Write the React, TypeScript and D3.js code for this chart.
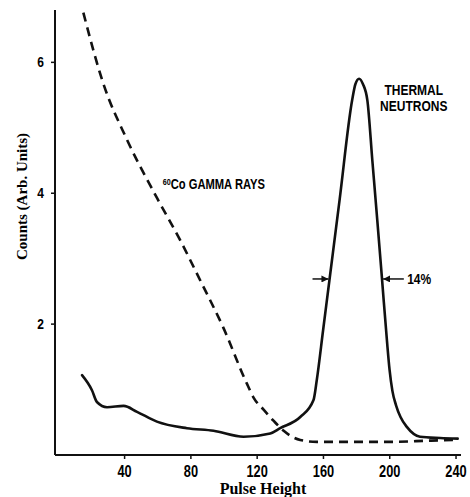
import { useEffect, useRef } from "react";
import * as d3 from "d3";

// neutron peak (solid)
const thermalPulse = [14.3, 20.3, 23.3, 29.4, 39.4, 47.5, 59.5, 77.6, 93.7, 111.8, 127.9, 133.9, 146, 154, 156, 159.8, 163.6, 169.7, 177.3, 179.3, 181.5, 183.8, 186.5, 189.5, 192.5, 195.4, 198.3, 199.9, 201.6, 203.8, 206.5, 210.3, 218.3, 230.4, 241];
const thermalCounts = [1.22, 0.99, 0.81, 0.73, 0.75, 0.66, 0.51, 0.41, 0.37, 0.28, 0.33, 0.41, 0.58, 0.84, 1.15, 1.91, 2.67, 3.89, 5.42, 5.67, 5.75, 5.67, 5.42, 4.5, 3.58, 2.67, 1.75, 1.3, 0.98, 0.76, 0.58, 0.43, 0.28, 0.26, 0.25];

// 60Co gamma background (dashed)
const gammaPulse = [15.1, 27.1, 41.6, 59.7, 73.6, 85.6, 99.5, 113.8, 118, 124, 130, 136, 141, 146, 156, 200, 225, 241];
const gammaCounts = [6.76, 5.68, 4.81, 3.92, 3.28, 2.67, 1.95, 1.09, 0.87, 0.69, 0.52, 0.37, 0.28, 0.23, 0.2, 0.2, 0.22, 0.23];

const xTicks = [40, 80, 120, 160, 200, 240];
const yTicks = [2, 4, 6];

// FWHM marker
const fwhmLevel = 2.69;
const fwhmLeft = [153.4, 163];
const fwhmRight = [208.5, 196];

const W = 470;
const H = 497;
const sans = "'Liberation Sans', Arial, sans-serif";
const serif = "'Liberation Serif', 'Times New Roman', serif";

export default function App() {
  const ref = useRef<SVGSVGElement>(null);

  useEffect(() => {
    document.body.style.margin = "0";
    const svg = d3.select(ref.current);
    svg.selectAll("*").remove();

    const x = d3.scaleLinear().domain([-2, 243]).range([55, 461]);
    const y = d3.scaleLinear().domain([0, 6.8]).range([455, 10]);

    // condensed bold sans, faked with a horizontal squeeze
    const narrowText = (px: number, py: number, size: number, anchor: string, txt: string) =>
      svg.append("text")
        .attr("transform", `translate(${px},${py}) scale(0.8,1)`)
        .attr("text-anchor", anchor)
        .style("font-family", sans).style("font-weight", "bold").style("font-size", size + "px")
        .text(txt);

    const defs = svg.append("defs");
    defs.append("marker")
      .attr("id", "head")
      .attr("viewBox", "0 0 10 10")
      .attr("refX", 10).attr("refY", 5)
      .attr("markerWidth", 7).attr("markerHeight", 7)
      .attr("markerUnits", "userSpaceOnUse")
      .attr("orient", "auto")
      .append("path").attr("d", "M0,0L10,5L0,10Z").attr("fill", "#111");

    // axes lines
    svg.append("line")
      .attr("x1", x(-2)).attr("x2", x(-2))
      .attr("y1", y(6.8)).attr("y2", y(0))
      .attr("stroke", "#111").attr("stroke-width", 2);
    svg.append("line")
      .attr("x1", x(-2)).attr("x2", x(243))
      .attr("y1", y(0)).attr("y2", y(0))
      .attr("stroke", "#111").attr("stroke-width", 2);

    // y ticks
    yTicks.forEach(d => {
      svg.append("line")
        .attr("x1", x(-2) - 4).attr("x2", x(-2))
        .attr("y1", y(d)).attr("y2", y(d))
        .attr("stroke", "#111").attr("stroke-width", 1.5);
      narrowText(x(-2) - 11, y(d) + 5, 15, "end", String(d));
    });

    // x ticks
    xTicks.forEach(d => {
      svg.append("line")
        .attr("x1", x(d)).attr("x2", x(d))
        .attr("y1", y(0)).attr("y2", y(0) + 4)
        .attr("stroke", "#111").attr("stroke-width", 1.5);
      narrowText(x(d), y(0) + 22, 16, "middle", String(d));
    });

    // axis titles
    svg.append("text")
      .attr("transform", `translate(27, ${(y(6.8) + y(0)) / 2 - 36}) rotate(-90)`)
      .attr("text-anchor", "middle")
      .style("font-family", serif).style("font-weight", "bold").style("font-size", "15px")
      .text("Counts (Arb. Units)");
    svg.append("text")
      .attr("x", 263).attr("y", 494)
      .attr("text-anchor", "middle")
      .style("font-family", serif).style("font-weight", "bold").style("font-size", "16px")
      .text("Pulse Height");

    const gamma = gammaPulse.map((p, i) => [x(p), y(gammaCounts[i])] as [number, number]);
    const thermal = thermalPulse.map((p, i) => [x(p), y(thermalCounts[i])] as [number, number]);
    const path = d3.line().curve(d3.curveMonotoneX);

    svg.append("path")
      .attr("d", path(gamma))
      .attr("fill", "none").attr("stroke", "#111")
      .attr("stroke-width", 2.6).attr("stroke-dasharray", "9 6");
    svg.append("path")
      .attr("d", path(thermal))
      .attr("fill", "none").attr("stroke", "#111")
      .attr("stroke-width", 2.6).attr("stroke-linecap", "round");

    // FWHM arrows
    [fwhmLeft, fwhmRight].forEach(a => {
      svg.append("line")
        .attr("x1", x(a[0])).attr("x2", x(a[1]))
        .attr("y1", y(fwhmLevel)).attr("y2", y(fwhmLevel))
        .attr("stroke", "#111").attr("stroke-width", 1.5)
        .attr("marker-end", "url(#head)");
    });
    narrowText(x(210.5), y(fwhmLevel) + 5, 15, "start", "14%");

    // labels
    narrowText(x(214.5), 95, 15, "middle", "THERMAL");
    narrowText(x(214.5), 111, 15, "middle", "NEUTRONS");

    const g = svg.append("text")
      .attr("transform", `translate(${x(63)},${y(4.06)}) scale(0.8,1)`)
      .style("font-family", sans).style("font-weight", "bold").style("font-size", "14px");
    g.append("tspan").attr("dy", -4).style("font-size", "9px").text("60");
    g.append("tspan").attr("dy", 4).text("Co GAMMA RAYS");
  }, []);

  return <svg ref={ref} width={W} height={H} style={{ display: "block", background: "#fff" }} />;
}
